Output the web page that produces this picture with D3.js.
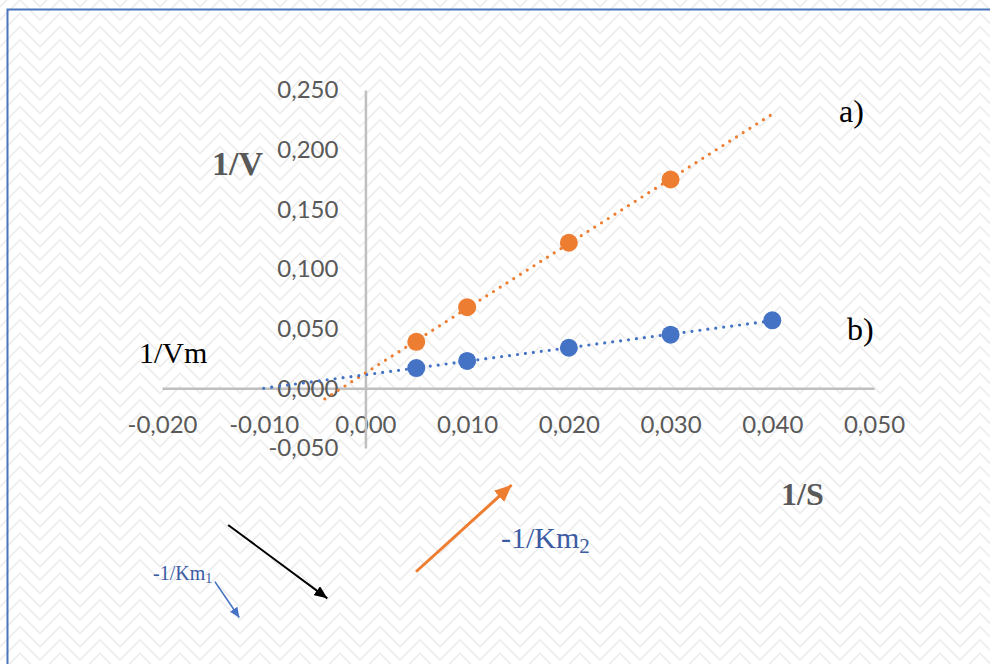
<!DOCTYPE html>
<html>
<head>
<meta charset="utf-8">
<script src="https://cdn.jsdelivr.net/npm/d3@7"></script>
<style>
  body { margin: 0; background: #fff; }
  svg { display: block; }
</style>
</head>
<body>
<div id="chart"></div>
<script>
// 1/S values (x)
const invS = [0.005, 0.010, 0.020, 0.030, 0.040];
// series a) - orange, first four substrate values
const invVa = [0.039, 0.068, 0.122, 0.175];
// series b) - blue
const invVb = [0.017, 0.023, 0.034, 0.045, 0.057];

const xTicks = [-0.02, -0.01, 0, 0.01, 0.02, 0.03, 0.04, 0.05];
const yTicks = [-0.05, 0, 0.05, 0.10, 0.15, 0.20, 0.25];

// trendline forecast ranges (1/S)
const trendA = [-0.004, 0.040];
const trendB = [-0.010, 0.040];

// annotation arrows, in data units [x1, y1, x2, y2]
const arrowKm1 = [-0.0148, -0.162, -0.0124, -0.192];
const arrowBlack = [-0.0135, -0.1145, -0.00375, -0.176];
const arrowKm2 = [0.00497, -0.1537, 0.01438, -0.081];

const width = 990;
const height = 664;

const svg = d3.select("#chart")
  .append("svg")
  .attr("width", width)
  .attr("height", height);

const defs = svg.append("defs");

// zigzag background
const pat = defs.append("pattern")
  .attr("id", "zigzag")
  .attr("patternUnits", "userSpaceOnUse")
  .attr("width", 40)
  .attr("height", 40);
pat.append("rect").attr("width", 40).attr("height", 40).attr("fill", "#fff");
[-40 / 3, 0, 40 / 3, 80 / 3, 40].forEach(off => {
  pat.append("path")
    .attr("d", `M-2,${off + 22} L0,${off + 20} L20,${off} L40,${off + 20} L42,${off + 18}`)
    .attr("fill", "none")
    .attr("stroke", "#ededed")
    .attr("stroke-width", 1.6);
});

svg.append("rect")
  .attr("width", width)
  .attr("height", height)
  .attr("fill", "url(#zigzag)");

// frame
svg.append("rect")
  .attr("x", 7.5)
  .attr("y", 9.5)
  .attr("width", 1000)
  .attr("height", 700)
  .attr("fill", "none")
  .attr("stroke", "#4a75bd")
  .attr("stroke-width", 2);

// scales
const x = d3.scaleLinear().domain([-0.02, 0.05]).range([162, 874]);
const y = d3.scaleLinear().domain([-0.05, 0.25]).range([448, 90]);

const fmt = d => d3.format(".3f")(d).replace("−", "-").replace(".", ",");

// X axis through y = 0
const xAxis = svg.append("g")
  .attr("transform", "translate(0," + y(0) + ")")
  .call(d3.axisBottom(x).tickValues(xTicks).tickFormat(fmt).tickSize(0).tickSizeOuter(0).tickPadding(28));

// Y axis through x = 0
const yAxis = svg.append("g")
  .attr("transform", "translate(" + x(0) + ",0)")
  .call(d3.axisLeft(y).tickValues(yTicks).tickFormat(fmt).tickSize(0).tickSizeOuter(0).tickPadding(27));

[xAxis, yAxis].forEach(g => {
  g.select(".domain").attr("stroke", "#bfbfbf").attr("stroke-width", 2.5);
  g.selectAll("text")
    .attr("fill", "#595959")
    .style("font-family", "Lato, 'Open Sans', sans-serif")
    .style("font-size", "24px");
});

// least squares fit
function fit(xs, ys) {
  const mx = d3.mean(xs), my = d3.mean(ys);
  let sxy = 0, sxx = 0;
  xs.forEach((v, i) => { sxy += (v - mx) * (ys[i] - my); sxx += (v - mx) * (v - mx); });
  const m = sxy / sxx;
  return { m: m, b: my - m * mx };
}

const series = [
  { xs: invS.slice(0, invVa.length), ys: invVa, color: "#ed7d31", range: trendA },
  { xs: invS, ys: invVb, color: "#4472c4", range: trendB }
];

series.forEach(s => {
  const f = fit(s.xs, s.ys);
  svg.append("line")
    .attr("x1", x(s.range[0]))
    .attr("y1", y(f.m * s.range[0] + f.b))
    .attr("x2", x(s.range[1]))
    .attr("y2", y(f.m * s.range[1] + f.b))
    .attr("stroke", s.color)
    .attr("stroke-width", 3.2)
    .attr("stroke-linecap", "round")
    .attr("stroke-dasharray", "0 8");
});

series.forEach(s => {
  svg.append("g")
    .selectAll("circle")
    .data(s.ys)
    .enter()
    .append("circle")
    .attr("cx", (d, i) => x(s.xs[i]))
    .attr("cy", d => y(d))
    .attr("r", 9)
    .attr("fill", s.color);
});

// arrow heads
function marker(id, color, len, w) {
  defs.append("marker")
    .attr("id", id)
    .attr("markerUnits", "userSpaceOnUse")
    .attr("viewBox", `0 0 ${len} ${w}`)
    .attr("refX", len)
    .attr("refY", w / 2)
    .attr("markerWidth", len)
    .attr("markerHeight", w)
    .attr("orient", "auto")
    .append("path")
    .attr("d", `M0,0 L${len},${w / 2} L0,${w} Z`)
    .attr("fill", color);
}
marker("headBlack", "#000", 13, 11);
marker("headOrange", "#ed7d31", 17, 15);
marker("headBlue", "#4472c4", 10, 9);

[
  { a: arrowBlack, color: "#000", w: 2, head: "headBlack" },
  { a: arrowKm2, color: "#ed7d31", w: 3, head: "headOrange" },
  { a: arrowKm1, color: "#4472c4", w: 1.6, head: "headBlue" }
].forEach(ar => {
  svg.append("line")
    .attr("x1", x(ar.a[0]))
    .attr("y1", y(ar.a[1]))
    .attr("x2", x(ar.a[2]))
    .attr("y2", y(ar.a[3]))
    .attr("stroke", ar.color)
    .attr("stroke-width", ar.w)
    .attr("marker-end", "url(#" + ar.head + ")");
});

// labels
const serif = "'Liberation Serif', 'Times New Roman', serif";

svg.append("text")
  .attr("x", 212)
  .attr("y", 175)
  .style("font-family", serif)
  .style("font-weight", "bold")
  .style("font-size", "34px")
  .attr("fill", "#595959")
  .text("1/V");

svg.append("text")
  .attr("x", 781)
  .attr("y", 505)
  .style("font-family", serif)
  .style("font-weight", "bold")
  .style("font-size", "32px")
  .attr("fill", "#595959")
  .text("1/S");

svg.append("text")
  .attr("x", 839)
  .attr("y", 122)
  .style("font-family", serif)
  .style("font-size", "32px")
  .attr("fill", "#000")
  .text("a)");

svg.append("text")
  .attr("x", 847)
  .attr("y", 340)
  .style("font-family", serif)
  .style("font-size", "32px")
  .attr("fill", "#000")
  .text("b)");

svg.append("text")
  .attr("x", 139)
  .attr("y", 363)
  .style("font-family", serif)
  .style("font-size", "30px")
  .attr("fill", "#000")
  .text("1/Vm");

const km2 = svg.append("text")
  .attr("x", 501)
  .attr("y", 548)
  .style("font-family", serif)
  .style("font-size", "30px")
  .attr("fill", "#3b5ca3");
km2.append("tspan").text("-1/Km");
km2.append("tspan").attr("dy", 5).style("font-size", "21px").text("2");

const km1 = svg.append("text")
  .attr("x", 153)
  .attr("y", 580)
  .style("font-family", serif)
  .style("font-size", "20px")
  .attr("fill", "#3b5ca3");
km1.append("tspan").text("-1/Km");
km1.append("tspan").attr("dy", 3).style("font-size", "14px").text("1");
</script>
</body>
</html>
